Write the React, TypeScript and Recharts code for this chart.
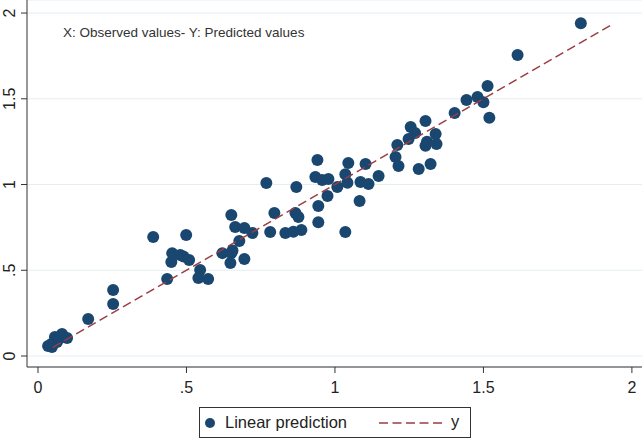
import {
	CartesianGrid,
	Customized,
	Legend,
	Scatter,
	ScatterChart,
	XAxis,
	YAxis,
} from 'recharts'

// observed values (x)
const observed = [
	0.034, 0.047, 0.057, 0.064, 0.081, 0.098, 0.045, 0.07, 0.169, 0.253, 0.253,
	0.388, 0.499, 0.452, 0.479, 0.49, 0.449, 0.509, 0.435, 0.546, 0.54, 0.573,
	0.621, 0.651, 0.648, 0.655, 0.695, 0.678, 0.651, 0.664, 0.695, 0.722, 0.769,
	0.782, 0.796, 0.833, 0.86, 0.887, 0.867, 0.877, 0.87, 0.941, 0.934, 0.957,
	0.978, 0.944, 0.944, 0.975, 1.008, 1.035, 1.083, 1.035, 1.042, 1.045, 1.086,
	1.103, 1.113, 1.147, 1.204, 1.214, 1.21, 1.282, 1.322, 1.248, 1.27, 1.255,
	1.305, 1.305, 1.31, 1.339, 1.342, 1.403, 1.443, 1.48, 1.5, 1.514, 1.52, 1.615,
	1.828,
]

// predicted values (y)
const predicted = [
	0.058, 0.052, 0.111, 0.082, 0.128, 0.105, 0.07, 0.1, 0.216, 0.385, 0.303,
	0.694, 0.706, 0.6, 0.589, 0.58, 0.548, 0.56, 0.449, 0.501, 0.455, 0.449, 0.6,
	0.6, 0.542, 0.615, 0.566, 0.671, 0.822, 0.752, 0.746, 0.717, 1.009, 0.723,
	0.834, 0.717, 0.725, 0.735, 0.834, 0.81, 0.985, 1.143, 1.044, 1.026, 1.032,
	0.875, 0.78, 0.933, 0.985, 0.723, 0.904, 1.06, 1.01, 1.125, 1.015, 1.12,
	1.003, 1.05, 1.16, 1.108, 1.23, 1.09, 1.12, 1.265, 1.3, 1.335, 1.37, 1.226,
	1.25, 1.294, 1.236, 1.417, 1.493, 1.51, 1.48, 1.574, 1.39, 1.755, 1.94,
]

// y = x reference line ends
const lineX = [0.05, 1.935]

const ticks = [0, 0.5, 1, 1.5, 2]

const points = observed.map((x, i) => ({ x, y: predicted[i] }))
const yLine = lineX.map((v) => ({ x: v, y: v }))

const FONT = '"Liberation Sans", Arial, sans-serif'
const NAVY = '#1a476f'
const MAROON = '#9a3d44'

const fmt = (v: number) => (v === 0.5 ? '.5' : String(v))

const YTick = ({ x, y, payload }: any) => (
	<text
		x={x}
		y={y}
		transform={`rotate(-90, ${x}, ${y})`}
		textAnchor='middle'
		fontSize={16}
		fontFamily={FONT}
		fill='#222'
	>
		{fmt(payload.value)}
	</text>
)

const Dot = ({ cx, cy }: any) => <circle cx={cx} cy={cy} r={6} fill={NAVY} />

const Note = () => (
	<text x={63} y={37} fontSize={13.5} fontFamily={FONT} fill='#333'>
		X: Observed values- Y: Predicted values
	</text>
)

const LegendBox = () => (
	<div
		style={{
			width: 272,
			height: 31,
			boxSizing: 'border-box',
			border: '1px solid #333',
			position: 'relative',
			fontFamily: FONT,
			fontSize: 16.5,
			color: '#222',
		}}
	>
		<svg width={270} height={29} style={{ position: 'absolute', left: 0, top: 0 }}>
			<circle cx={10} cy={15} r={5} fill={NAVY} />
			<line
				x1={179}
				y1={15}
				x2={243}
				y2={15}
				stroke={MAROON}
				strokeWidth={1.5}
				strokeDasharray='9 4.5'
			/>
		</svg>
		<span style={{ position: 'absolute', left: 25, top: 4, lineHeight: '20px' }}>
			Linear prediction
		</span>
		<span style={{ position: 'absolute', left: 251, top: 3, lineHeight: '20px' }}>
			y
		</span>
	</div>
)

const App = () => {
	return (
		<div style={{ position: 'absolute', left: 0, top: 0, background: '#fff' }}>
			<ScatterChart
				width={644}
				height={440}
				margin={{ top: 0, right: 2, bottom: 0, left: 0 }}
			>
				<CartesianGrid vertical={false} stroke='#e6eef2' />
				<XAxis
					type='number'
					dataKey='x'
					domain={[-0.037, 2.034]}
					allowDataOverflow
					ticks={ticks}
					tickFormatter={fmt}
					height={42}
					tickSize={6}
					tickMargin={9}
					stroke='#333'
					tick={{ fontSize: 16, fontFamily: FONT, fill: '#222' }}
				/>
				<YAxis
					type='number'
					dataKey='y'
					domain={[-0.064, 2.076]}
					allowDataOverflow
					ticks={ticks}
					width={27}
					tickSize={6}
					tickMargin={6}
					stroke='#333'
					tick={<YTick />}
				/>
				<Scatter
					name='Linear prediction'
					data={points}
					shape={<Dot />}
					isAnimationActive={false}
				/>
				<Scatter
					name='y'
					data={yLine}
					line={{ stroke: MAROON, strokeWidth: 1.5, strokeDasharray: '9 4.5' }}
					shape={() => null}
					isAnimationActive={false}
				/>
				<Customized component={<Note />} />
				<Legend
					verticalAlign='bottom'
					content={<LegendBox />}
					wrapperStyle={{ left: 199, top: 407, bottom: 'auto', width: 272, height: 31 }}
				/>
			</ScatterChart>
		</div>
	)
}

export default App
